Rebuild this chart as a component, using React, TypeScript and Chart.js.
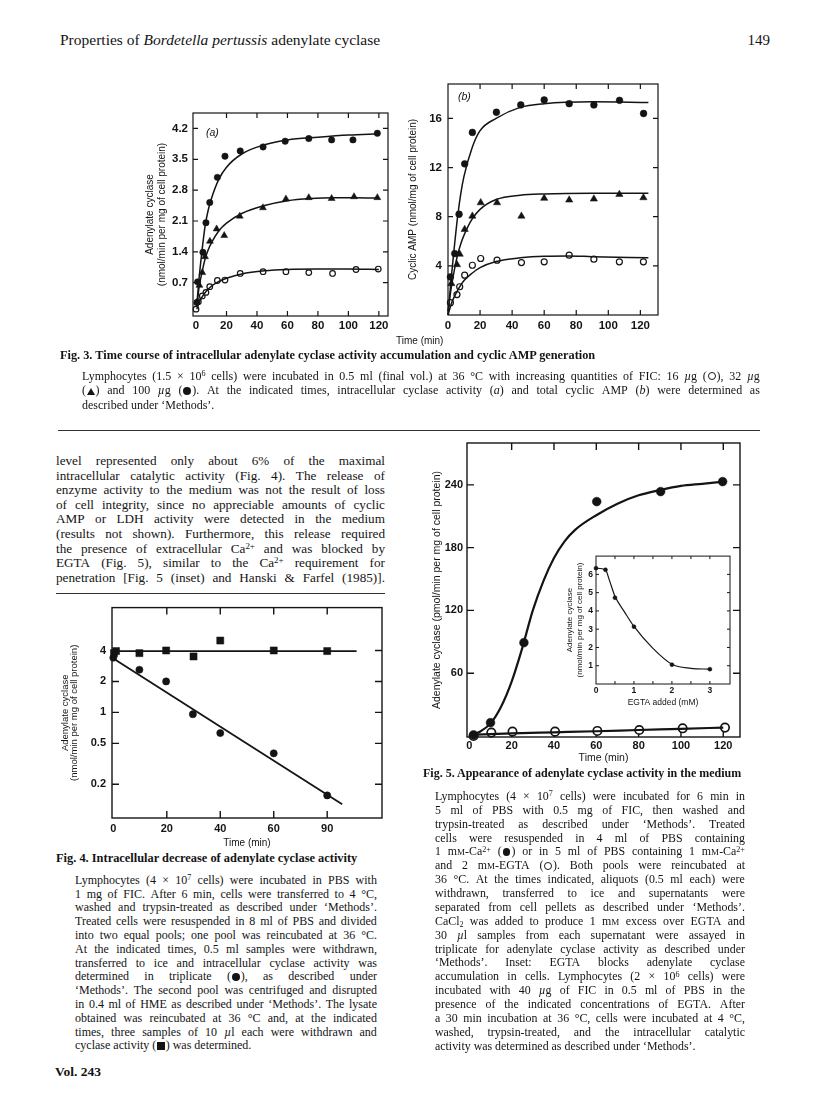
import React, { useEffect, useRef } from 'react';
import { Chart, registerables } from 'chart.js';

Chart.register(...registerables);

// ================= DATA =================
// Fig. 3(a): intracellular adenylate cyclase (nmol/min per mg)
const fig3XTicks = [0, 20, 40, 60, 80, 100, 120];
const fig3aYTicks = [0.7, 1.4, 2.1, 2.8, 3.5, 4.2];
const fig3aYTickLabels = ['0.7', '1.4', '2.1', '2.8', '3.5', '4.2'];
const fig3aHighT = [0.5, 1, 4.5, 6.5, 9, 14, 19, 29, 44, 58.5, 74, 89, 103, 119];
const fig3aHighV = [0.25, 0.72, 1.39, 2.06, 2.52, 3.09, 3.57, 3.69, 3.78, 3.91, 3.97, 3.94, 3.94, 4.09];
const fig3aMidT = [2.2, 4.1, 5.9, 9.1, 13.5, 18.5, 28.7, 43.9, 59, 74, 89, 103.7, 119];
const fig3aMidV = [0.64, 0.93, 1.29, 1.64, 1.92, 1.77, 2.21, 2.4, 2.6, 2.63, 2.61, 2.65, 2.63];
const fig3aLowT = [0, 1.5, 4.1, 6.5, 9, 14, 19, 29, 44, 59, 74, 89.6, 105, 119.6];
const fig3aLowV = [0.1, 0.27, 0.4, 0.48, 0.61, 0.75, 0.76, 0.91, 0.95, 0.95, 0.93, 0.91, 1.0, 1.01];
const fig3aHighCurveT = [0.5, 2, 4, 6, 8, 10, 15, 20, 30, 45, 60, 80, 100, 120];
const fig3aHighCurveV = [0.2, 0.8, 1.45, 2.0, 2.35, 2.6, 3.05, 3.32, 3.62, 3.83, 3.94, 4.0, 4.05, 4.08];
const fig3aMidCurveT = [0.5, 2, 4, 6, 8, 10, 15, 20, 30, 45, 60, 75, 90, 105, 120];
const fig3aMidCurveV = [0.15, 0.6, 0.95, 1.25, 1.45, 1.6, 1.88, 2.05, 2.27, 2.45, 2.56, 2.61, 2.63, 2.63, 2.62];
const fig3aLowCurveT = [0.5, 2, 4, 6, 10, 15, 20, 30, 45, 60, 80, 100, 120];
const fig3aLowCurveV = [0.1, 0.25, 0.38, 0.48, 0.62, 0.73, 0.8, 0.9, 0.97, 1.0, 1.01, 1.01, 1.0];

// Fig. 3(b): cyclic AMP (nmol/mg)
const fig3bYTicks = [4, 8, 12, 16];
const fig3bHighT = [1.5, 4.2, 6.9, 10.4, 15.2, 30.2, 45.4, 60, 75.6, 91, 107, 122];
const fig3bHighV = [3.1, 5.0, 8.2, 12.3, 14.86, 16.5, 17.1, 17.5, 17.2, 17.1, 17.47, 16.4];
const fig3bMidT = [2.1, 5.6, 7.3, 10.4, 15.2, 20.4, 30.6, 45.8, 60, 75.6, 91, 106.9, 121.9];
const fig3bMidV = [2.56, 4.1, 4.95, 6.97, 8.05, 9.14, 9.14, 8.05, 9.5, 9.36, 9.44, 9.82, 9.55];
const fig3bLowT = [1.5, 5.6, 7.3, 10.4, 15.2, 20.4, 30.6, 45.8, 60, 75.6, 91, 106.9, 121.9];
const fig3bLowV = [1.0, 1.66, 2.3, 3.24, 4.05, 4.6, 4.46, 4.27, 4.33, 4.87, 4.54, 4.33, 4.33];
const fig3bHighCurveT = [0, 2, 4, 6, 8, 10, 15, 20, 30, 45, 60, 90, 125];
const fig3bHighCurveV = [0, 3.0, 5.6, 8.0, 9.9, 11.3, 13.6, 15.0, 16.0, 16.9, 17.2, 17.35, 17.3];
const fig3bMidCurveT = [0, 2, 4, 6, 8, 10, 15, 20, 30, 45, 60, 90, 125];
const fig3bMidCurveV = [0.3, 2.2, 3.7, 4.9, 5.8, 6.5, 7.8, 8.6, 9.4, 9.75, 9.85, 9.9, 9.9];
const fig3bLowCurveT = [0, 2, 4, 6, 10, 15, 20, 30, 45, 60, 75, 90, 125];
const fig3bLowCurveV = [0, 0.9, 1.5, 2.0, 2.8, 3.4, 3.85, 4.35, 4.65, 4.78, 4.8, 4.75, 4.65];

// Fig. 4: intracellular decrease (log scale)
const fig4XTicks = [0, 20, 40, 60, 80];
const fig4XTickLabels = ['0', '20', '40', '60', '90'];
const fig4YTicks = [0.2, 0.5, 1, 2, 4];
const fig4YTickLabels = ['0.2', '0.5', '1', '2', '4'];
const fig4LysateT = [0.25, 1, 9.75, 19.75, 30, 40, 60, 80];
const fig4LysateV = [3.77, 3.95, 3.77, 4.0, 3.5, 5.0, 4.0, 3.95];
const fig4CellsT = [0, 9.75, 19.75, 29.75, 40, 60, 80];
const fig4CellsV = [3.4, 2.6, 2.0, 0.96, 0.63, 0.4, 0.156];
const fig4LysateLineT = [0, 91];
const fig4LysateLineV = [3.95, 3.95];
const fig4CellsLineT = [0, 85.6];
const fig4CellsLineV = [3.35, 0.128];

// Fig. 5: activity in the medium (pmol/min per mg)
const fig5XTicks = [0, 20, 40, 60, 80, 100, 120];
const fig5YTicks = [60, 120, 180, 240];
const fig5CaT = [2, 10, 25.8, 60.2, 90.4, 119.7];
const fig5CaV = [1, 12.7, 89.2, 224, 233.6, 243.1];
const fig5EgtaT = [2, 10.4, 20.4, 40.5, 60.5, 80.3, 100.8, 120.8];
const fig5EgtaV = [0, 3.2, 4.1, 4.1, 4.8, 5.7, 7.3, 8];
const fig5CaCurveT = [1, 5, 10, 15, 20, 25, 30, 35, 40, 45, 50, 60, 70, 80, 90, 100, 110, 120];
const fig5CaCurveV = [1, 4, 12, 28, 52, 84, 120, 148, 170, 186, 197, 211, 222, 230, 235, 239, 241, 243];
const fig5EgtaCurveT = [0, 20, 40, 60, 80, 100, 120];
const fig5EgtaCurveV = [1, 2.5, 3.5, 4.5, 5.7, 6.8, 8];

// Fig. 5 inset: EGTA dependence
const insetXTicks = [0, 1, 2, 3];
const insetXMinor = [0.5, 1, 1.5, 2, 2.5, 3];
const insetYTicks = [1, 2, 3, 4, 5, 6];
const insetEgta = [0, 0.25, 0.5, 1, 2, 3];
const insetV = [6.34, 6.25, 4.72, 3.14, 1.06, 0.81];
const insetCurveEgta = [0, 0.25, 0.35, 0.5, 0.75, 1, 1.5, 2, 2.5, 3];
const insetCurveV = [6.34, 6.25, 5.7, 4.8, 3.95, 3.15, 1.95, 1.08, 0.86, 0.81];

// ================= HELPERS =================
const SANS = '"Liberation Sans", Arial, Helvetica, sans-serif';
const SERIF = '"Liberation Serif", "Times New Roman", serif';
const INK = '#141414';

const xy = (t: number[], v: number[]) => t.map((x, i) => ({ x, y: v[i] }));

const framePlugin = {
  id: 'frame',
  beforeDatasetsDraw(chart: any, _a: any, o: any) {
    const { ctx, chartArea: a, scales } = chart;
    ctx.save();
    ctx.strokeStyle = INK;
    ctx.lineWidth = o.width ?? 1.3;
    ctx.strokeRect(a.left, a.top, a.right - a.left, a.bottom - a.top);
    const L = o.len ?? 5;
    ctx.beginPath();
    for (const v of o.xTicks ?? []) {
      const x = scales.x.getPixelForValue(v);
      ctx.moveTo(x, a.bottom);
      ctx.lineTo(x, a.bottom - L);
      ctx.moveTo(x, a.top);
      ctx.lineTo(x, a.top + L);
    }
    for (const v of o.yTicks ?? []) {
      const y = scales.y.getPixelForValue(v);
      ctx.moveTo(a.left, y);
      ctx.lineTo(a.left + L, y);
      ctx.moveTo(a.right, y);
      ctx.lineTo(a.right - L, y);
    }
    ctx.stroke();
    ctx.restore();
  },
};

type Rect = { x: number; y: number; w: number; h: number };
type Area = { l: number; t: number; r: number; b: number };

function axis(p: {
  type?: string;
  min: number;
  max: number;
  ticks: number[];
  labels?: string[];
  font: number;
  weight?: string;
  pad: number;
  title?: string | string[];
  titleFont?: number;
  titleLH?: number;
  titlePad?: any;
}) {
  return {
    type: p.type ?? 'linear',
    min: p.min,
    max: p.max,
    afterBuildTicks: (ax: any) => {
      ax.ticks = p.ticks.map((v) => ({ value: v }));
    },
    grid: { display: false, drawTicks: false },
    border: { display: false },
    ticks: {
      autoSkip: false,
      maxRotation: 0,
      minRotation: 0,
      padding: p.pad,
      color: INK,
      font: { family: SANS, size: p.font, weight: p.weight ?? 'bold' },
      callback: (_v: any, i: number) => (p.labels ? p.labels[i] : String(p.ticks[i])),
    },
    title: p.title
      ? {
          display: true,
          text: p.title,
          color: INK,
          font: { family: SANS, size: p.titleFont ?? 10, lineHeight: p.titleLH ?? 1.2 },
          padding: p.titlePad ?? 0,
        }
      : { display: false },
  };
}

function curve(t: number[], v: number[], width: number) {
  return {
    data: xy(t, v),
    showLine: true,
    pointRadius: 0,
    borderColor: INK,
    borderWidth: width,
    cubicInterpolationMode: 'monotone',
    clip: false,
  };
}

function marks(t: number[], v: number[], style: string, r: number, filled: boolean, bw = 1.2) {
  return {
    data: xy(t, v),
    showLine: false,
    pointStyle: style,
    pointRadius: r,
    pointBackgroundColor: filled ? INK : '#fff',
    pointBorderColor: INK,
    pointBorderWidth: filled ? 0.5 : bw,
    clip: false,
  };
}

function config(rect: Rect, area: Area, datasets: any[], x: any, y: any, frame: any) {
  return {
    type: 'scatter',
    data: { datasets },
    options: {
      responsive: false,
      animation: false,
      devicePixelRatio: 1,
      events: [],
      layout: { padding: { top: area.t - rect.y, right: rect.x + rect.w - area.r, left: 0, bottom: 0 } },
      plugins: { legend: { display: false }, tooltip: { enabled: false }, frame },
      scales: {
        x: { ...x, position: 'bottom', afterFit: (ax: any) => { ax.height = rect.y + rect.h - area.b; } },
        y: { ...y, position: 'left', afterFit: (ax: any) => { ax.width = area.l - rect.x; } },
      },
    },
    plugins: [framePlugin],
  };
}

function ChartBox({ rect, build }: { rect: Rect; build: () => any }) {
  const ref = useRef<HTMLCanvasElement>(null);
  useEffect(() => {
    const chart = new Chart(ref.current as HTMLCanvasElement, build());
    return () => chart.destroy();
  }, []);
  return (
    <canvas
      ref={ref}
      width={rect.w}
      height={rect.h}
      style={{ position: 'absolute', left: rect.x, top: rect.y, width: rect.w, height: rect.h }}
    />
  );
}

// ---------- chart builders ----------
const r3a: Rect = { x: 140, y: 80, w: 260, h: 275 };
const a3a: Area = { l: 193, t: 113, r: 388, b: 316 };
const build3a = () =>
  config(
    r3a,
    a3a,
    [
      curve(fig3aHighCurveT, fig3aHighCurveV, 1.5),
      curve(fig3aMidCurveT, fig3aMidCurveV, 1.5),
      curve(fig3aLowCurveT, fig3aLowCurveV, 1.5),
      marks(fig3aHighT, fig3aHighV, 'circle', 3.2, true),
      marks(fig3aMidT, fig3aMidV, 'triangle', 4, true),
      marks(fig3aLowT, fig3aLowV, 'circle', 2.8, false),
    ],
    axis({ min: -2, max: 126, ticks: fig3XTicks, font: 11.5, pad: 3 }),
    axis({
      min: -0.055, max: 4.55, ticks: fig3aYTicks, labels: fig3aYTickLabels, font: 11.5, pad: 5,
      title: ['Adenylate cyclase', '(nmol/min per mg of cell protein)'], titleFont: 10, titleLH: 1.2, titlePad: { top: 4 },
    }),
    { xTicks: fig3XTicks.slice(1), yTicks: fig3aYTicks, len: 5, width: 1.2 }
  );

const r3b: Rect = { x: 400, y: 70, w: 270, h: 285 };
const a3b: Area = { l: 448, t: 84, r: 658, b: 315 };
const build3b = () =>
  config(
    r3b,
    a3b,
    [
      curve(fig3bHighCurveT, fig3bHighCurveV, 1.5),
      curve(fig3bMidCurveT, fig3bMidCurveV, 1.5),
      curve(fig3bLowCurveT, fig3bLowCurveV, 1.5),
      marks(fig3bHighT, fig3bHighV, 'circle', 3.4, true),
      marks(fig3bMidT, fig3bMidV, 'triangle', 4.2, true),
      marks(fig3bLowT, fig3bLowV, 'circle', 3, false),
    ],
    axis({ min: 0, max: 131, ticks: fig3XTicks, font: 11.5, pad: 4 }),
    axis({
      min: 0, max: 18.8, ticks: fig3bYTicks, font: 11.5, pad: 6,
      title: 'Cyclic AMP (nmol/mg of cell protein)', titleFont: 10, titleLH: 1.2, titlePad: { top: 7 },
    }),
    { xTicks: fig3XTicks.slice(1), yTicks: fig3bYTicks, len: 5, width: 1.2 }
  );

const r4: Rect = { x: 50, y: 595, w: 345, h: 255 };
const a4: Area = { l: 112, t: 607, r: 382, b: 818 };
const build4 = () =>
  config(
    r4,
    a4,
    [
      curve(fig4LysateLineT, fig4LysateLineV, 1.8),
      curve(fig4CellsLineT, fig4CellsLineV, 1.8),
      marks(fig4LysateT, fig4LysateV, 'rect', 5, true),
      marks(fig4CellsT, fig4CellsV, 'circle', 3.6, true),
    ],
    axis({ min: -0.5, max: 100.5, ticks: fig4XTicks, labels: fig4XTickLabels, font: 11, pad: 4,
      title: 'Time (min)', titleFont: 10, titleLH: 1.2, titlePad: { bottom: 1 } }),
    axis({
      type: 'logarithmic', min: 0.094, max: 10.45, ticks: fig4YTicks, labels: fig4YTickLabels, font: 11, pad: 6,
      title: ['Adenylate cyclase', '(nmol/min per mg of cell protein)'], titleFont: 9.5, titleLH: 0.95, titlePad: { top: 11 },
    }),
    { xTicks: fig4XTicks.slice(1), yTicks: fig4YTicks, len: 7, width: 1.4 }
  );

const r5: Rect = { x: 400, y: 430, w: 350, h: 340 };
const a5: Area = { l: 467, t: 443, r: 740, b: 737 };
const build5 = () =>
  config(
    r5,
    a5,
    [
      curve(fig5CaCurveT, fig5CaCurveV, 2.2),
      curve(fig5EgtaCurveT, fig5EgtaCurveV, 2.2),
      marks(fig5CaT, fig5CaV, 'circle', 4.4, true),
      marks(fig5EgtaT, fig5EgtaV, 'circle', 4.2, false, 1.7),
    ],
    axis({ min: -1.1, max: 127.9, ticks: fig5XTicks, font: 11, pad: 2.5,
      title: 'Time (min)', titleFont: 10.5, titleLH: 1.2, titlePad: { bottom: 5.7 } }),
    axis({
      min: -1, max: 280, ticks: fig5YTicks, font: 11, pad: 4,
      title: 'Adenylate cyclase (pmol/min per mg of cell protein)', titleFont: 10.5, titleLH: 1.2, titlePad: { top: 30.7 },
    }),
    { xTicks: fig5XTicks.slice(1), yTicks: fig5YTicks, len: 7, width: 1.4 }
  );

const rIn: Rect = { x: 560, y: 548, w: 175, h: 162 };
const aIn: Area = { l: 596, t: 555, r: 730, b: 684 };
const buildInset = () =>
  config(
    rIn,
    aIn,
    [curve(insetCurveEgta, insetCurveV, 1.2), marks(insetEgta, insetV, 'circle', 2, true)],
    axis({ min: 0, max: 3.53, ticks: insetXTicks, font: 8.5, pad: 2,
      title: 'EGTA added (mM)', titleFont: 8.5, titleLH: 1.2, titlePad: { bottom: 2 } }),
    axis({
      min: 0, max: 7, ticks: insetYTicks, font: 8.5, pad: 3,
      title: ['Adenylate cyclase', '(nmol/min per mg of cell protein)'], titleFont: 8, titleLH: 1.2, titlePad: { top: 5.2 },
    }),
    { xTicks: insetXMinor, yTicks: insetYTicks, len: 3, width: 1 }
  );

// ---------- text helpers ----------
const symBase: React.CSSProperties = { display: 'inline-block', boxSizing: 'border-box', position: 'relative' };

function fmt(s: string): React.ReactNode[] {
  const parts = s.split(/(\^\{[^}]*\}|_\{[^}]*\}|\*[^*]+\*|~M|~o|~f|~t|~s)/);
  return parts.map((p, i) => {
    if (p.startsWith('^{')) return <span key={i} style={{ fontSize: '0.68em', position: 'relative', top: '-0.45em' }}>{p.slice(2, -1)}</span>;
    if (p.startsWith('_{')) return <span key={i} style={{ fontSize: '0.68em', position: 'relative', top: '0.3em' }}>{p.slice(2, -1)}</span>;
    if (p.startsWith('*') && p.length > 2) return <i key={i}>{p.slice(1, -1)}</i>;
    if (p === '~M') return <span key={i} style={{ fontSize: '0.76em' }}>M</span>;
    if (p === '~o')
      return <span key={i} style={{ ...symBase, width: '0.66em', height: '0.66em', border: `1.1px solid ${INK}`, borderRadius: '50%', margin: '0 0.08em', top: '0.04em' }} />;
    if (p === '~f')
      return <span key={i} style={{ ...symBase, width: '0.66em', height: '0.66em', background: INK, borderRadius: '50%', margin: '0 0.08em', top: '0.04em' }} />;
    if (p === '~s')
      return <span key={i} style={{ ...symBase, width: '0.62em', height: '0.62em', background: INK, margin: '0 0.08em', top: '0.02em' }} />;
    if (p === '~t')
      return (
        <span
          key={i}
          style={{ ...symBase, width: 0, height: 0, borderLeft: '0.38em solid transparent', borderRight: '0.38em solid transparent', borderBottom: `0.66em solid ${INK}`, margin: '0 0.06em', top: '0.02em' }}
        />
      );
    return <React.Fragment key={i}>{p}</React.Fragment>;
  });
}

function Para({ lines, left, top, width, size, lh, lastFull }: {
  lines: string[]; left: number; top: number; width: number; size: number; lh: number; lastFull?: boolean;
}) {
  return (
    <>
      {lines.map((ln, i) => {
        const last = i === lines.length - 1 && !lastFull;
        const cy = top + i * lh;
        return (
          <div
            key={i}
            style={{
              position: 'absolute', left, top: cy - size * 0.6, width, height: size * 1.2,
              lineHeight: `${size * 1.2}px`, fontSize: size, fontFamily: SERIF, display: 'flex',
              alignItems: 'baseline',
              justifyContent: last ? 'flex-start' : 'space-between', whiteSpace: 'nowrap',
              columnGap: last ? '0.25em' : 0, color: INK,
            }}
          >
            {ln.split(' ').map((w, j) => (
              <span key={j}>{fmt(w)}</span>
            ))}
          </div>
        );
      })}
    </>
  );
}

function T({ x, cy, size, children, bold, italic, family, align, w }: any) {
  return (
    <div
      style={{
        position: 'absolute', left: x, top: cy - size * 0.6, height: size * 1.2, lineHeight: `${size * 1.2}px`,
        fontSize: size, fontFamily: family ?? SERIF, fontWeight: bold ? 'bold' : 'normal',
        fontStyle: italic ? 'italic' : 'normal', whiteSpace: 'nowrap', color: INK,
        width: w, textAlign: align ?? 'left',
      }}
    >
      {children}
    </div>
  );
}

const fig3Caption = [
  'Lymphocytes (1.5 × 10^{6} cells) were incubated in 0.5 ml (final vol.) at 36 °C with increasing quantities of FIC: 16 *µ*g (~o), 32 *µ*g',
  '(~t) and 100 *µ*g (~f). At the indicated times, intracellular cyclase activity (*a*) and total cyclic AMP (*b*) were determined as',
  'described under ‘Methods’.',
];

const leftText = [
  'level represented only about 6% of the maximal',
  'intracellular catalytic activity (Fig. 4). The release of',
  'enzyme activity to the medium was not the result of loss',
  'of cell integrity, since no appreciable amounts of cyclic',
  'AMP or LDH activity were detected in the medium',
  '(results not shown). Furthermore, this release required',
  'the presence of extracellular Ca^{2+} and was blocked by',
  'EGTA (Fig. 5), similar to the Ca^{2+} requirement for',
  'penetration [Fig. 5 (inset) and Hanski & Farfel (1985)].',
];

const fig4Caption = [
  'Lymphocytes (4 × 10^{7} cells) were incubated in PBS with',
  '1 mg of FIC. After 6 min, cells were transferred to 4 °C,',
  'washed and trypsin-treated as described under ‘Methods’.',
  'Treated cells were resuspended in 8 ml of PBS and divided',
  'into two equal pools; one pool was reincubated at 36 °C.',
  'At the indicated times, 0.5 ml samples were withdrawn,',
  'transferred to ice and intracellular cyclase activity was',
  'determined in triplicate (~f), as described under',
  '‘Methods’. The second pool was centrifuged and disrupted',
  'in 0.4 ml of HME as described under ‘Methods’. The lysate',
  'obtained was reincubated at 36 °C and, at the indicated',
  'times, three samples of 10 *µ*l each were withdrawn and',
  'cyclase activity (~s) was determined.',
];

const fig5Caption = [
  'Lymphocytes (4 × 10^{7} cells) were incubated for 6 min in',
  '5 ml of PBS with 0.5 mg of FIC, then washed and',
  'trypsin-treated as described under ‘Methods’. Treated',
  'cells were resuspended in 4 ml of PBS containing',
  '1 m~M-Ca^{2+} (~f) or in 5 ml of PBS containing 1 m~M-Ca^{2+}',
  'and 2 m~M-EGTA (~o). Both pools were reincubated at',
  '36 °C. At the times indicated, aliquots (0.5 ml each) were',
  'withdrawn, transferred to ice and supernatants were',
  'separated from cell pellets as described under ‘Methods’.',
  'CaCl_{2} was added to produce 1 m~M excess over EGTA and',
  '30 *µ*l samples from each supernatant were assayed in',
  'triplicate for adenylate cyclase activity as described under',
  '‘Methods’. Inset: EGTA blocks adenylate cyclase',
  'accumulation in cells. Lymphocytes (2 × 10^{6} cells) were',
  'incubated with 40 *µ*g of FIC in 0.5 ml of PBS in the',
  'presence of the indicated concentrations of EGTA. After',
  'a 30 min incubation at 36 °C, cells were incubated at 4 °C,',
  'washed, trypsin-treated, and the intracellular catalytic',
  'activity was determined as described under ‘Methods’.',
];

export default function App() {
  return (
    <div style={{ position: 'absolute', left: 0, top: 0, width: 816, height: 1096, background: '#fff', overflow: 'hidden' }}>
      <T x={60} cy={40} size={15.5}>
        Properties of <i>Bordetella pertussis</i> adenylate cyclase
      </T>
      <T x={700} cy={40} size={15} w={70} align="right">149</T>

      <ChartBox rect={r3a} build={build3a} />
      <ChartBox rect={r3b} build={build3b} />
      <T x={206} cy={132} size={10.5} italic family={SANS}>(a)</T>
      <T x={458} cy={96} size={10.5} italic family={SANS}>(b)</T>
      <T x={396} cy={341} size={10} family={SANS}>Time (min)</T>

      <T x={60} cy={355} size={12.3} bold>
        Fig. 3. Time course of intracellular adenylate cyclase activity accumulation and cyclic AMP generation
      </T>
      <Para lines={fig3Caption} left={82} top={376} width={678} size={12} lh={14.5} />
      <div style={{ position: 'absolute', left: 58, top: 430, width: 702, height: 1, background: '#333' }} />

      <Para lines={leftText} left={56} top={461} width={329} size={13.2} lh={14.6} lastFull />
      <div style={{ position: 'absolute', left: 56, top: 593, width: 329, height: 1, background: '#333' }} />

      <ChartBox rect={r4} build={build4} />
      <T x={56} cy={858} size={12.4} bold>Fig. 4. Intracellular decrease of adenylate cyclase activity</T>
      <Para lines={fig4Caption} left={75} top={880} width={302} size={12} lh={13.8} />
      <T x={55} cy={1072} size={13.5} bold>Vol. 243</T>

      <ChartBox rect={r5} build={build5} />
      <ChartBox rect={rIn} build={buildInset} />
      <T x={423} cy={773} size={12} bold>Fig. 5. Appearance of adenylate cyclase activity in the medium</T>
      <Para lines={fig5Caption} left={435} top={796} width={310} size={11.9} lh={13.88} />
    </div>
  );
}
